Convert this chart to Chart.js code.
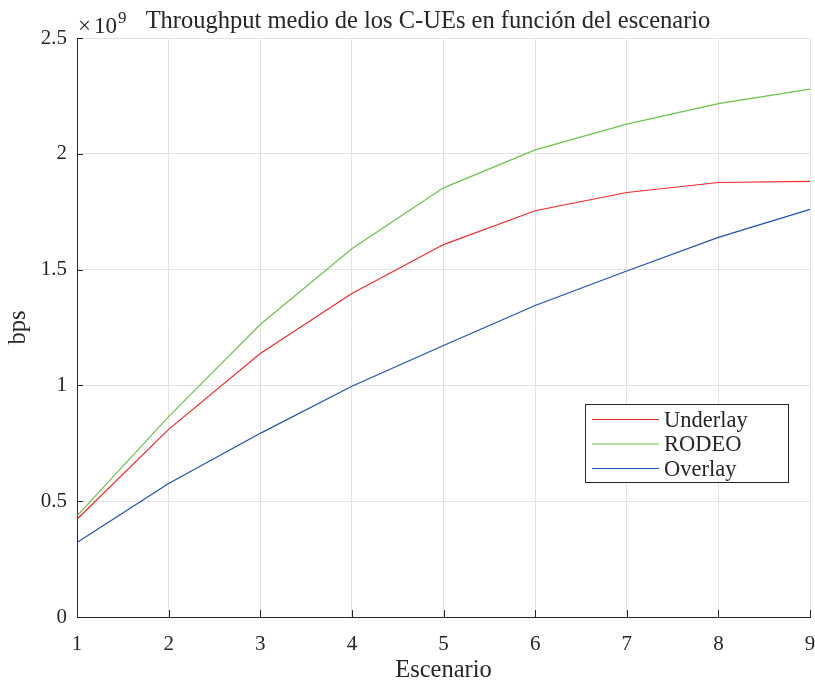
<!DOCTYPE html>
<html>
<head>
<meta charset="utf-8">
<script src="https://cdn.jsdelivr.net/npm/chart.js@4"></script>
<style>
  body { margin: 0; background: #fff; }
  #wrap { width: 815px; height: 685px; }
</style>
</head>
<body>
<div id="wrap"><canvas id="thrChart" width="815" height="685"></canvas></div>
<script>
// escenarios y throughput medio (bps)
const escenarios = ['1', '2', '3', '4', '5', '6', '7', '8', '9'];
const underlay = [0.422e9, 0.81e9, 1.138e9, 1.397e9, 1.608e9, 1.754e9, 1.833e9, 1.876e9, 1.881e9];
const rodeo    = [0.437e9, 0.865e9, 1.263e9, 1.59e9, 1.853e9, 2.017e9, 2.128e9, 2.217e9, 2.279e9];
const overlay  = [0.322e9, 0.576e9, 0.793e9, 0.996e9, 1.172e9, 1.345e9, 1.494e9, 1.639e9, 1.760e9];
const yTicks = [0, 0.5e9, 1e9, 1.5e9, 2e9, 2.5e9];

const serif = '"Liberation Serif", "DejaVu Serif", serif';
const axisCol = '#262626';

const series = [
    { label: 'Underlay', data: underlay, color: '#f02a2a' },
    { label: 'RODEO', data: rodeo, color: '#6cc24a' },
    { label: 'Overlay', data: overlay, color: '#1f52b0' }
];

// ticks hacia dentro, titulo, exponente y leyenda estilo matlab
const matlabStuff = {
    id: 'matlabStuff',
    afterDraw(chart) {
        const ctx = chart.ctx;
        const xs = chart.scales.x, ys = chart.scales.y;
        const area = chart.chartArea;
        ctx.save();
        ctx.strokeStyle = axisCol;
        ctx.lineWidth = 1;
        xs.ticks.forEach((t, i) => {
            const px = Math.round(xs.getPixelForTick(i)) + 0.5;
            ctx.beginPath();
            ctx.moveTo(px, area.bottom);
            ctx.lineTo(px, area.bottom - 7);
            ctx.stroke();
        });
        yTicks.forEach(v => {
            const py = Math.round(ys.getPixelForValue(v)) + 0.5;
            ctx.beginPath();
            ctx.moveTo(area.left, py);
            ctx.lineTo(area.left + 6, py);
            ctx.stroke();
        });

        // titulo
        ctx.fillStyle = axisCol;
        ctx.font = '24.5px ' + serif;
        ctx.textAlign = 'center';
        ctx.textBaseline = 'alphabetic';
        ctx.fillText('Throughput medio de los C-UEs en función del escenario', 428, 28);

        // x10^9
        ctx.textAlign = 'left';
        ctx.font = '23px ' + serif;
        ctx.fillText('\u00d7', 78, 33);
        ctx.fillText('10', 94, 33);
        ctx.font = '17px ' + serif;
        ctx.fillText('9', 118, 23);

        // leyenda
        const lx = 585.5, ly = 404.5, lw = 203, lh = 78;
        ctx.fillStyle = '#fff';
        ctx.fillRect(lx, ly, lw, lh);
        ctx.strokeStyle = axisCol;
        ctx.strokeRect(lx, ly, lw, lh);
        ctx.font = '22.5px ' + serif;
        ctx.textBaseline = 'middle';
        series.forEach((s, i) => {
            const yy = 419.5 + i * 24.5;
            ctx.strokeStyle = s.color;
            ctx.lineWidth = 1.2;
            ctx.beginPath();
            ctx.moveTo(592, yy);
            ctx.lineTo(659, yy);
            ctx.stroke();
            ctx.fillStyle = axisCol;
            ctx.fillText(s.label, 664, yy + 1.5);
        });
        ctx.restore();
    }
};

const ctx = document.getElementById('thrChart').getContext('2d');
new Chart(ctx, {
    type: 'line',
    data: {
        labels: escenarios,
        datasets: series.map(s => ({
            label: s.label,
            data: s.data,
            borderColor: s.color,
            backgroundColor: s.color,
            borderWidth: 1.2,
            pointRadius: 0,
            tension: 0,
            fill: false
        }))
    },
    options: {
        responsive: false,
        animation: false,
        layout: { padding: { top: 38, right: 5, left: 0, bottom: 0 } },
        plugins: {
            legend: { display: false },
            tooltip: { enabled: false }
        },
        scales: {
            x: {
                offset: false,
                grid: { color: '#e3e3e3', drawTicks: false },
                border: { color: axisCol, width: 1 },
                ticks: { color: axisCol, font: { family: serif, size: 21 }, padding: 15, maxRotation: 0 },
                title: { display: true, text: 'Escenario', color: axisCol, font: { family: serif, size: 24.5 }, padding: { top: 0, bottom: 0 } },
                afterFit(scale) {
                    scale.height = 68;
                    scale.paddingLeft = 0;
                    scale.paddingRight = 0;
                }
            },
            y: {
                min: 0,
                max: 2.5e9,
                grid: { color: '#e3e3e3', drawTicks: false },
                border: { color: axisCol, width: 1 },
                afterBuildTicks(scale) { scale.ticks = yTicks.map(v => ({ value: v })); },
                ticks: {
                    color: axisCol,
                    font: { family: serif, size: 21 },
                    padding: 10,
                    callback: v => String(v / 1e9)
                },
                title: { display: true, text: 'bps', color: axisCol, font: { family: serif, size: 24.5 }, padding: { top: 4, bottom: 0 } },
                afterFit(scale) {
                    scale.width = 77;
                    scale.paddingTop = 0;
                    scale.paddingBottom = 0;
                }
            }
        }
    },
    plugins: [matlabStuff]
});
</script>
</body>
</html>
